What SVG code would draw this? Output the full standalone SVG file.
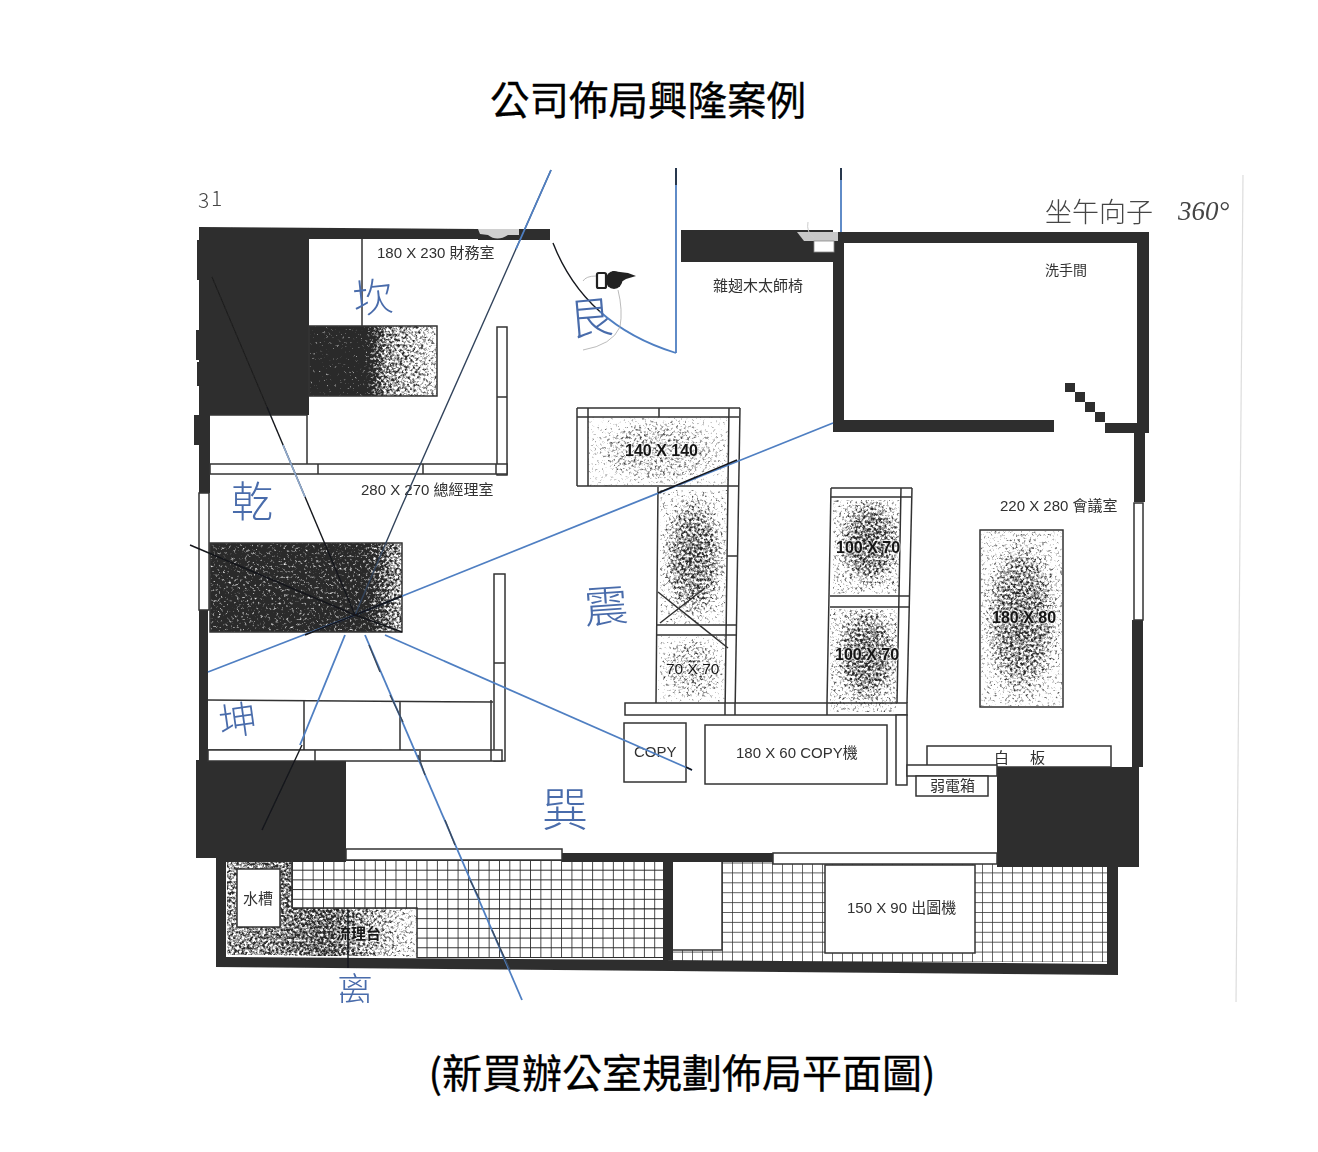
<svg xmlns="http://www.w3.org/2000/svg" width="1318" height="1152" viewBox="0 0 1318 1152">
<style>
.w{fill:#2f2f2f}
.l{fill:none;stroke:#333;stroke-width:1.5}
.o{fill:#fff;stroke:#333;stroke-width:1.5}
.t{font-family:"Liberation Sans","Noto Sans CJK TC",sans-serif;font-size:15px;fill:#303030}
.b{font-weight:bold;fill:#141414;stroke:#fff;stroke-opacity:.55;stroke-width:2.4px;paint-order:stroke}
.ti{font-family:"Noto Sans CJK TC","Liberation Sans",sans-serif;font-size:39.5px;fill:#000;stroke:#000;stroke-width:.3;text-anchor:middle}
.h{font-family:"Noto Sans CJK TC",sans-serif;fill:#4a6cab;text-anchor:middle;font-weight:300}
.hk{font-family:"Noto Sans CJK TC",sans-serif;fill:#444;font-weight:300}
.bl{fill:none;stroke:#4f7fc2;stroke-width:1.8}
.dk{fill:none;stroke:#14171c;stroke-width:1.4}
</style>
<defs>
<pattern id="t1" patternUnits="userSpaceOnUse" x="292" y="860" width="10.35" height="9.7"><path d="M0 0H10.35M0 0V9.7" fill="none" stroke="#2a2a2a" stroke-width="1.7"/></pattern>
<pattern id="t2" patternUnits="userSpaceOnUse" x="672" y="862.5" width="10" height="9.9"><path d="M0 0H10M0 0V9.9" fill="none" stroke="#2a2a2a" stroke-width="1.4"/></pattern>
<filter id="sc" filterUnits="userSpaceOnUse" x="0" y="0" width="1318" height="1152"><feGaussianBlur stdDeviation=".45"/></filter>
<filter id="st" x="0" y="0" width="1" height="1" color-interpolation-filters="sRGB">
<feTurbulence type="fractalNoise" baseFrequency=".38" numOctaves="3" seed="7" result="n"/>
<feColorMatrix in="n" type="matrix" values="0 0 0 0 0 0 0 0 0 0 0 0 0 0 0 1 0 0 0 0" result="na"/>
<feComposite in="na" in2="SourceAlpha" operator="arithmetic" k1="0" k2="1" k3="1" k4="-1" result="c"/>
<feComponentTransfer in="c" result="d"><feFuncA type="linear" slope="3"/></feComponentTransfer>
<feGaussianBlur in="d" stdDeviation=".6" result="e"/>
<feFlood flood-color="#2c2c2c"/><feComposite in2="e" operator="in"/>
</filter>
<radialGradient id="r1"><stop offset="0" stop-color="#fff" stop-opacity=".7"/><stop offset=".6" stop-color="#fff" stop-opacity=".62"/><stop offset="1" stop-color="#fff" stop-opacity=".42"/></radialGradient>
<radialGradient id="r2"><stop offset="0" stop-color="#fff" stop-opacity=".56"/><stop offset=".7" stop-color="#fff" stop-opacity=".5"/><stop offset="1" stop-color="#fff" stop-opacity=".38"/></radialGradient>
<radialGradient id="r3" cx=".55" cy=".45"><stop offset="0" stop-color="#fff" stop-opacity=".72"/><stop offset=".6" stop-color="#fff" stop-opacity=".64"/><stop offset="1" stop-color="#fff" stop-opacity=".46"/></radialGradient>
<linearGradient id="g1"><stop offset="0" stop-color="#fff" stop-opacity="1"/><stop offset=".42" stop-color="#fff" stop-opacity="1"/><stop offset=".6" stop-color="#fff" stop-opacity=".66"/><stop offset="1" stop-color="#fff" stop-opacity=".5"/></linearGradient>
<linearGradient id="g2"><stop offset="0" stop-color="#fff" stop-opacity=".92"/><stop offset=".8" stop-color="#fff" stop-opacity=".9"/><stop offset="1" stop-color="#fff" stop-opacity=".6"/></linearGradient>
<linearGradient id="g3"><stop offset="0" stop-color="#fff" stop-opacity=".64"/><stop offset=".55" stop-color="#fff" stop-opacity=".74"/><stop offset="1" stop-color="#fff" stop-opacity=".44"/></linearGradient>
<clipPath id="cut"><rect x="300" y="940" width="120" height="63"/></clipPath>
</defs>
<rect width="1318" height="1152" fill="#fff"/>
<path d="M1243 175L1236 1002" stroke="#ddd" stroke-width="1.2" fill="none"/>

<g id="titles">
<text class="ti" x="648" y="115">公司佈局興隆案例</text>
<text class="ti" x="682" y="1088" style="font-size:40px">(新買辦公室規劃佈局平面圖)</text>
</g>

<g id="plan" filter="url(#sc)">
<g id="tiles">
<rect x="292" y="860" width="372" height="49" fill="url(#t1)"/>
<rect x="417" y="908" width="247" height="50" fill="url(#t1)"/>
<rect x="672" y="862" width="436" height="100" fill="url(#t2)"/>
<rect x="673" y="861" width="49" height="89" fill="#fff"/>
<path class="l" d="M673 950H722V861" stroke-width="1.2"/>
<rect class="o" x="825" y="865" width="150" height="88" stroke-width="1.2"/>
</g>

<g id="walls">
<path class="w" d="M201 227L478 229V239H309V415H210V493H199V227Z"/>
<path class="w" d="M478 229L550 229V240H478Z"/>
<path class="w" d="M199 610H208V760H346V858H196V760H199Z"/>
<path class="w" d="M216 858H346V862H226V957L663 960L1107 964V867H1118V975L216 967Z"/>
<rect class="w" x="562" y="853" width="211" height="9"/>
<rect class="w" x="663" y="858" width="10" height="102"/>
<rect class="w" x="226" y="858" width="120" height="4"/>
<path class="w" d="M681 230H833V232H1149V243H844V420H1054V432H833V262H681Z"/>
<path class="w" d="M1137 243H1149V433H1145V502H1134V433H1105V423H1137Z"/>
<path class="w" d="M1132 620H1143V767H1139V867H997V767H1132Z"/>
<rect class="w" x="1065" y="383" width="10" height="9"/><rect class="w" x="1075" y="392" width="10" height="10"/><rect class="w" x="1085" y="402" width="10" height="10"/><rect class="w" x="1095" y="412" width="10" height="10"/>
<path fill="#d0d0d0" d="M478 229H519V235H508Q497 242 488 235L480 234Z"/>
<path fill="#c8c8c8" d="M797 232H838V241H815L804 241Z"/>
<rect x="814" y="241" width="20" height="11" fill="#fff" stroke="#888" stroke-width=".8"/>
<path d="M808 222Q806 232 814 238" fill="none" stroke="#ccc" stroke-width="1"/>
<rect class="o" x="199" y="493" width="10" height="117"/>
<rect class="o" x="1134" y="503" width="9" height="117"/>
<rect class="o" x="346" y="849" width="216" height="11"/>
<rect class="o" x="773" y="853" width="224" height="11"/>
<path class="w" d="M197 240h3v40h-3zM196 330h4v30h-4zM197 362h3v24h-3zM194 415h5v30h-5z"/>
</g>

<g id="finance-room">
<path class="l" d="M362 239V326"/>
<rect x="309" y="326" width="128" height="70" fill="#fff"/>
<rect x="309" y="326" width="128" height="70" fill="url(#g1)" filter="url(#st)"/>
<rect class="l" x="309" y="326" width="128" height="70"/>
<rect class="o" x="497" y="327" width="10" height="148"/>
<path class="l" d="M497 397H507M307 415V464M210 415H307"/>
<rect class="o" x="210" y="464" width="297" height="10"/>
<path class="l" d="M318 464V474M423 464V474M496 464V474"/>
<text class="t" x="377" y="258">180 X 230 財務室</text>
</g>

<g id="manager-room">
<rect x="210" y="543" width="192" height="89" fill="#fff"/>
<rect x="210" y="543" width="192" height="89" fill="url(#g2)" filter="url(#st)"/>
<rect class="l" x="210" y="543" width="192" height="89"/>
<rect class="o" x="494" y="574" width="11" height="187"/>
<path class="l" d="M494 663H505M208 700L493 702M208 750L493 751M304 700V750M400 702V751"/>
<rect class="o" x="208" y="750" width="294" height="11"/>
<path class="l" d="M315 750V761M420 751V761M491 700V761"/>
<text class="t" x="361" y="495">280 X 270 總經理室</text>
</g>

<g id="central-cabinet">
<rect x="588" y="417" width="141" height="69" fill="url(#r2)" filter="url(#st)" opacity=".9"/>
<rect x="660" y="490" width="67" height="134" fill="url(#r1)" filter="url(#st)"/>
<rect x="658" y="636" width="68" height="66" fill="url(#r2)" filter="url(#st)"/>
<path class="l" d="M577 408H740M577 417H739M577 408V486M588 408V486M659 408V417M577 486H738M729 408L725 715M740 408L735 715M658 487L656 703M657 625H737M657 635H736M727 556H737"/>
<rect x="625" y="703" width="282" height="12" fill="#fff"/>
<path class="l" d="M625 703H907V715H625Z"/>
<path class="l" d="M725 703V715M735 703V715M827 703V715"/>
<path class="l" d="M658 592L728 648M660 623L705 588" stroke-width="1.6"/>
<text class="t b" x="625" y="456" style="font-size:16px">140 X 140</text>
<text class="t b" x="666" y="674" style="font-size:15.5px;font-weight:normal">70 X 70</text>
</g>

<g id="right-cabinet">
<rect x="833" y="500" width="67" height="94" fill="url(#r3)" filter="url(#st)"/>
<rect x="830" y="609" width="67" height="103" fill="url(#r3)" filter="url(#st)"/>
<path class="l" d="M831 488H912M831 497H911M830 596H910M830 607H910M831 488L827 703M901 488L897 703M912 488L907 703"/>
<path class="o" d="M896 715H907V785H896Z"/>
<text class="t b" x="836" y="553" style="font-size:16px">100 X 70</text>
<text class="t b" x="835" y="660" style="font-size:16px">100 X 70</text>
</g>

<g id="copy">
<rect class="o" x="624" y="723" width="62" height="59"/>
<rect class="o" x="705" y="725" width="182" height="59"/>
<text class="t" x="634" y="757">COPY</text>
<text class="t" x="736" y="758">180 X 60 COPY機</text>
</g>

<g id="meeting">
<rect x="981" y="531" width="81" height="175" fill="url(#r1)" filter="url(#st)"/>
<rect class="l" x="980" y="530" width="83" height="177"/>
<text class="t" x="1000" y="511">220 X 280 會議室</text>
<text class="t b" x="992" y="623" style="font-size:16px">180 X 80</text>
<rect class="o" x="927" y="746" width="184" height="21"/>
<rect class="o" x="907" y="765" width="90" height="11"/>
<rect class="o" x="916" y="776" width="72" height="20"/>
<text class="t" x="994" y="763">白</text><text class="t" x="1030" y="763">板</text>
<text class="t" x="930" y="791">弱電箱</text>
</g>

<g id="sink">
<path d="M227 862H292V908H417V957L227 955Z" fill="url(#g3)" filter="url(#st)"/>
<path class="l" d="M292 860V908H417V958"/>
<rect class="o" x="237" y="869" width="43" height="58" stroke-width="2"/>
<text class="t" x="243" y="904" style="font-size:15px">水槽</text>
<text class="t b" x="336" y="939" style="font-size:15px">流理台</text>
</g>

<g id="labels">
<text class="t" x="713" y="291">雜翅木太師椅</text>
<text class="t" x="1045" y="275" style="font-size:14px">洗手間</text>
<text class="t" x="847" y="913">150 X 90 出圖機</text>
</g>

<g id="connectors">
<path class="dk" d="M551 170L492 303L400 510L355 615" style="stroke:#33445c"/>
<path class="bl" d="M551 170L516 249"/>
<path class="bl" d="M355 615L833 423"/>
<path class="dk" d="M658 493L737 460M402 596L355 615" stroke-width="1.6"/>
<path class="bl" d="M355 615L208 672"/>
<path class="dk" d="M402 596L355 615L305 635"/>
<path class="bl" d="M385 635L692 770"/>
<path class="dk" d="M402 632L355 615M692 770L686 767"/>
<path class="bl" d="M345 635L300 745" stroke-width="1.4"/>
<path class="dk" d="M302 745L262 830"/>
<path class="bl" d="M365 635L522 1000" stroke-width="1.4"/>
<path class="dk" d="M369 645L380 672M390 695L403 722M418 755L425 775M445 820L455 845M470 880L480 900M492 930L510 970" style="stroke:#3c4a5c"/>
<path d="M212 277L267 407" stroke="#1f1f1f" stroke-width="1.2" fill="none"/>
<path class="dk" d="M267 407L355 615"/>
<path class="bl" d="M283 445L305 497" style="stroke:#8fa9cc"/>
<path class="dk" d="M190 545L355 615"/>
<path class="dk" d="M348 910V968"/>
<path class="bl" d="M676 168V353M841 168V232"/>
<path class="dk" d="M676 168V185M841 168V180"/>
<path class="bl" d="M599.8 311.5Q630.5 339 676 353"/>
<path class="dk" d="M553 243Q569 284 599.8 311.5"/>
<path d="M596 276Q586 276 583 281M618 290Q623 310 620 327Q612 345 583 350" fill="none" stroke="#aaa" stroke-width=".8"/>
</g>

<g id="compass-hand">
<rect x="597" y="273" width="9" height="15" rx="1.5" fill="#fff" stroke="#222" stroke-width="2.2"/>
<ellipse cx="614" cy="280" rx="8.5" ry="9" fill="#222"/>
<path d="M612 271L628 273L636 276L626 279L618 284Z" fill="#222"/>
</g>

<g id="handwriting">
<text class="h" x="373" y="312" font-size="40" transform="rotate(-6 373 298)">坎</text>
<text class="h" x="591" y="334" font-size="44" transform="rotate(-5 591 320)">艮</text>
<text class="h" x="252" y="517" font-size="42" fill="#3f5a96">乾</text>
<text class="h" x="606" y="622" font-size="44" transform="rotate(-4 606 605)">震</text>
<text class="h" x="238" y="734" font-size="38" transform="rotate(-8 238 720)">坤</text>
<text class="h" x="565" y="826" font-size="46">巽</text>
<text class="h" x="355" y="1004" font-size="36" clip-path="url(#cut)">离</text>
<text class="hk" x="198" y="208" font-size="21">3</text>
<text class="hk" x="211" y="206" font-size="21">1</text>
<text class="hk" x="1045" y="222" font-size="27" textLength="108" lengthAdjust="spacing">坐午向子</text>
<text class="hk" x="1178" y="220" font-size="27" style="font-family:'Liberation Serif',serif;font-style:italic">360°</text>
</g>
</g>
</svg>
